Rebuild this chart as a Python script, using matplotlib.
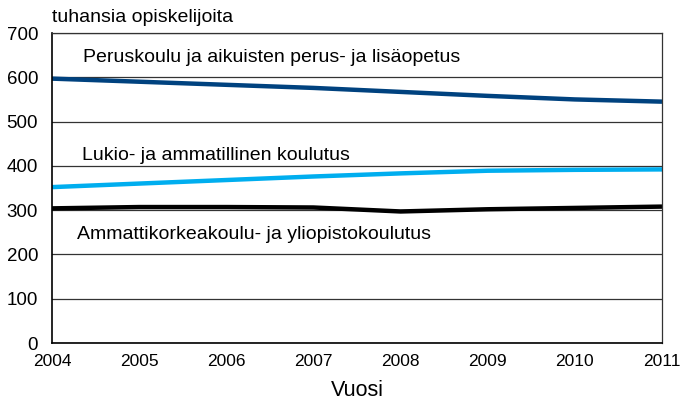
import matplotlib
matplotlib.use("Agg")
import matplotlib.pyplot as plt

years = [2004, 2005, 2006, 2007, 2008, 2009, 2010, 2011]
perus = [597, 590, 583, 576, 567, 558, 550, 545]
lukio = [352, 360, 368, 376, 383, 389, 391, 392]
ammatti = [304, 307, 307, 306, 297, 302, 305, 308]

labels = [
    "Peruskoulu ja aikuisten perus- ja lisäopetus",
    "Lukio- ja ammatillinen koulutus",
    "Ammattikorkeakoulu- ja yliopistokoulutus",
]

plt.rcParams["font.family"] = ["Liberation Sans", "DejaVu Sans"]
fs = 14

fig = plt.figure(figsize=(6.8, 4.03), dpi=100)
ax = fig.add_axes([52 / 680, 1 - 343 / 403, 610 / 680, 310 / 403])

ax.plot(years, perus, color="#00427f", linewidth=3.2, solid_capstyle="butt")
ax.plot(years, lukio, color="#00aeef", linewidth=3.2, solid_capstyle="butt")
ax.plot(years, ammatti, color="#000000", linewidth=3.2, solid_capstyle="butt")

ax.set_xlim(2004, 2011)
ax.set_ylim(0, 700)
ax.set_xticks(years)
ax.set_yticks(range(0, 701, 100))
ax.tick_params(axis="y", length=0, labelsize=13.5, pad=10)
ax.tick_params(axis="x", length=0, labelsize=12.5, pad=8)
ax.grid(axis="y", color="#333333", linewidth=0.9)
ax.set_axisbelow(True)
for s in ax.spines.values():
    s.set_color("#333333")
    s.set_linewidth(0.9)
ax.spines["left"].set_color("black")
ax.spines["bottom"].set_color("black")
ax.spines["left"].set_linewidth(1.2)
ax.spines["bottom"].set_linewidth(1.2)

ax.text(2004.36, 645, labels[0], fontsize=fs, va="center")
ax.text(2004.35, 424, labels[1], fontsize=fs, va="center")
ax.text(2004.29, 245, labels[2], fontsize=fs, va="center")

fig.text(52 / 680, 1 - 17 / 403, "tuhansia opiskelijoita", fontsize=fs, va="center")
ax.set_xlabel("Vuosi", fontsize=15.5, labelpad=8)

fig.savefig("out.png", dpi=100)
